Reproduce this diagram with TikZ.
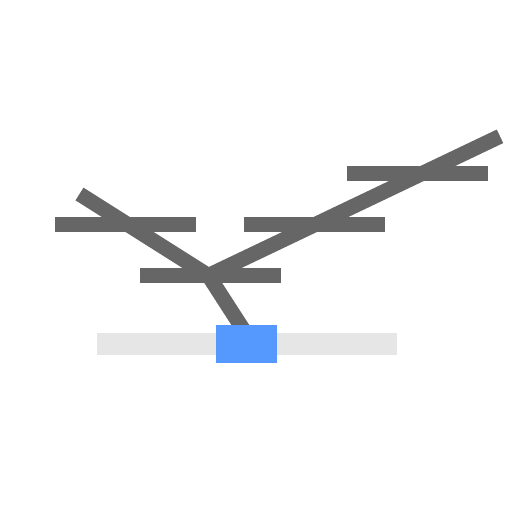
\documentclass[tikz,border=0pt]{standalone}
\usetikzlibrary{positioning}
\definecolor{branchgray}{HTML}{666666}
\definecolor{groundgray}{HTML}{E6E6E6}
\definecolor{rootblue}{HTML}{5599FF}
\begin{document}
\begin{tikzpicture}[x=1pt, y=-1pt]
    % Styles
    \tikzstyle{ground} = [rectangle, fill=groundgray, inner sep=0pt, minimum width=300.3pt, minimum height=22pt]
    \tikzstyle{root} = [rectangle, fill=rootblue, inner sep=0pt, minimum width=61.3pt, minimum height=37.7pt]
    \tikzstyle{branch} = [draw=branchgray, line width=15pt, miter limit=10]
    \tikzstyle{twig} = [draw=branchgray, line width=15.3pt]

    \useasboundingbox (0,0) rectangle (512,512);

    % Ground
    \node [ground] (ground) at (246.85,343.7) {};

    % Branch points
    \coordinate (fork) at (208.4,275.5);
    \coordinate (leftTip) at (79.5,194);
    \coordinate (rightTip) at (500,136.3);
    \coordinate (stemEnd) at (250,340);

    % Twigs
    \coordinate (twigA-w) at (55,224.7);     \coordinate (twigA-e) at (196.3,224.7);
    \coordinate (twigB-w) at (140,275.5);    \coordinate (twigB-e) at (281.3,275.5);
    \coordinate (twigC-w) at (243.7,224.7);  \coordinate (twigC-e) at (384.7,224.7);
    \coordinate (twigD-w) at (347,173.7);    \coordinate (twigD-e) at (488.3,173.7);
    \foreach \t in {A,B,C,D}
        \draw [twig] (twig\t-w) -- (twig\t-e);

    % Branches
    \draw [branch] (leftTip) -- (fork) -- (rightTip);
    \draw [branch] (fork) -- (stemEnd);

    % Root
    \node [root] (root) at (246.65,343.85) {};
\end{tikzpicture}
\end{document}
